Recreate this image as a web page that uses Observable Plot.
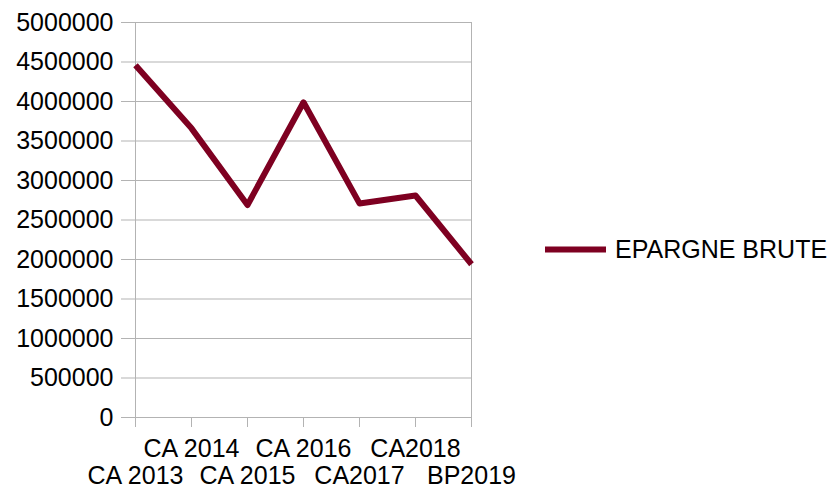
<!DOCTYPE html>
<html>
<head>
<meta charset="utf-8">
<script src="https://cdn.jsdelivr.net/npm/d3@7"></script>
<script src="https://cdn.jsdelivr.net/npm/@observablehq/plot@0.6"></script>
<style>
  html, body { margin: 0; padding: 0; background: #fff; }
  #wrap { position: relative; width: 834px; height: 487px; font-family: "Liberation Sans", Arial, sans-serif; }
  #legend { position: absolute; left: 545px; top: 249px; transform: translateY(-50%); display: flex; align-items: center; font-size: 25px; color: #000; white-space: nowrap; }
  #legend .sw { width: 61px; height: 6px; background: #7e0021; margin-right: 9px; }
</style>
</head>
<body>
<div id="wrap"></div>
<script>
const categories = ["CA 2013", "CA 2014", "CA 2015", "CA 2016", "CA2017", "CA2018", "BP2019"];
const values = [4460000, 3660000, 2690000, 3990000, 2710000, 2810000, 1940000];
const yTicks = [0, 500000, 1000000, 1500000, 2000000, 2500000, 3000000, 3500000, 4000000, 4500000, 5000000];
const seriesName = "EPARGNE BRUTE";
const lineColor = "#7e0021";
const gridColor = "#b3b3b3";

const data = categories.map((c, i) => ({category: c, value: values[i]}));

const chart = Plot.plot({
  width: 834,
  height: 487,
  marginLeft: 133,
  marginRight: 362,
  marginTop: 22,
  marginBottom: 70,
  style: {fontFamily: "Liberation Sans, Arial, sans-serif", fontSize: "25px", color: "#000", background: "#fff"},
  x: {type: "point", domain: categories, padding: 0, label: null},
  y: {domain: [0, 5000000], label: null},
  marks: [
    Plot.ruleY(yTicks, {stroke: gridColor, strokeWidth: 1, insetLeft: -12}),
    Plot.ruleX([categories[0], categories[categories.length - 1]], {stroke: gridColor, strokeWidth: 1}),
    Plot.axisX({tickSize: 10, stroke: gridColor, strokeOpacity: 1, label: null, tickFormat: () => ""}),
    Plot.axisX({tickSize: 0, tickPadding: 22, fill: "#000", label: null, tickFormat: d => categories.indexOf(d) % 2 === 1 ? d : ""}),
    Plot.axisX({tickSize: 0, tickPadding: 49, fill: "#000", label: null, tickFormat: d => categories.indexOf(d) % 2 === 0 ? d : ""}),
    Plot.axisY({ticks: yTicks, tickSize: 0, tickPadding: 20, fill: "#000", label: null, tickFormat: d => String(d)}),
    Plot.line(data, {x: "category", y: "value", stroke: lineColor, strokeWidth: 6, strokeLinejoin: "round", strokeLinecap: "butt"})
  ]
});

const wrap = document.getElementById("wrap");
wrap.appendChild(chart);
const legend = document.createElement("div");
legend.id = "legend";
legend.innerHTML = `<div class="sw"></div><span>${seriesName}</span>`;
wrap.appendChild(legend);
</script>
</body>
</html>
